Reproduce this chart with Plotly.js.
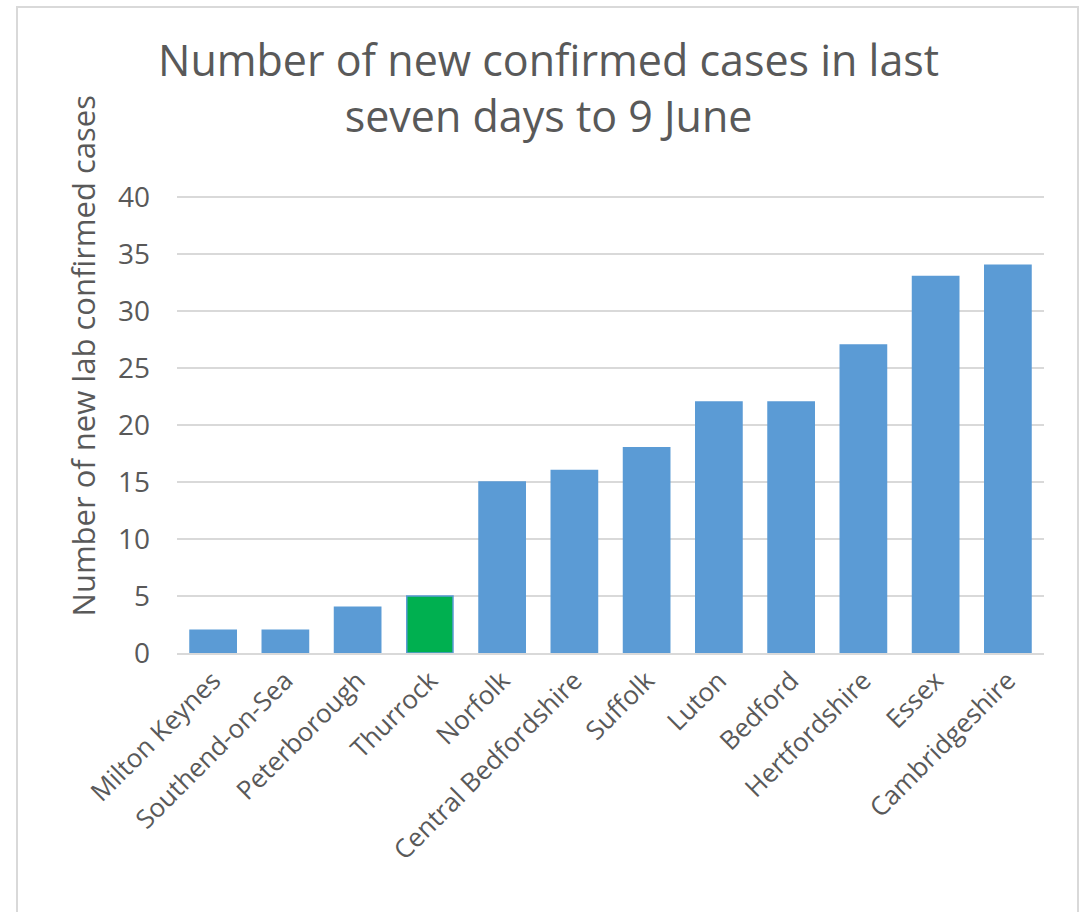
<!DOCTYPE html>
<html><head><meta charset="utf-8">
<script src="https://cdn.plot.ly/plotly-3.0.1.min.js"></script>
<style>
html,body{margin:0;padding:0;background:#fff;}
#frame{position:absolute;left:16px;top:6px;width:1063px;height:920px;border:2px solid #d9d9d9;box-sizing:border-box;}
#chart{position:absolute;left:0;top:0;width:1084px;height:912px;}
</style></head>
<body>
<div id="frame"></div>
<div id="chart"></div>
<script>
const categories = ["Milton Keynes","Southend-on-Sea","Peterborough","Thurrock","Norfolk","Central Bedfordshire","Suffolk","Luton","Bedford","Hertfordshire","Essex","Cambridgeshire"];
const cases = [2,2,4,5,15,16,18,22,22,27,33,34];
const highlight = "Thurrock";
const chartTitle = "Number of new confirmed cases in last<br>seven days to 9 June";
const yTitle = "Number of new lab confirmed cases";
const yTicks = [0,5,10,15,20,25,30,35,40];

const colors = categories.map(c => c === highlight ? "#00B050" : "#5B9BD5");
const font = "Open Sans, Noto Sans, sans-serif";
const txt = "#595959";

Plotly.newPlot("chart", [{
  type: "bar",
  x: categories,
  y: cases,
  marker: {color: colors, line: {color: "#5B9BD5", width: 1.5}},
  width: 0.64,
  hoverinfo: "x+y"
}], {
  width: 1084, height: 912,
  paper_bgcolor: "rgba(0,0,0,0)",
  plot_bgcolor: "rgba(0,0,0,0)",
  margin: {l: 177, r: 40, t: 191, b: 259},
  annotations: [
    {text: chartTitle, xref: "paper", yref: "paper", x: 0.429, y: 1.225, xanchor: "center", yanchor: "middle",
     showarrow: false, font: {family: font, size: 43, color: txt}},
    {text: yTitle, xref: "paper", yref: "paper", x: -0.109, y: 0.643, xanchor: "center", yanchor: "middle", textangle: -90,
     showarrow: false, font: {family: font, size: 31, color: txt}}
  ],
  xaxis: {
    type: "category",
    tickangle: -45,
    tickfont: {family: font, size: 26, color: txt},
    showgrid: false,
    showline: true, linecolor: "#d9d9d9", linewidth: 2,
    ticks: ""
  },
  yaxis: {
    range: [0, 40.5],
    tickvals: yTicks,
    tickfont: {family: font, size: 28, color: txt},
    gridcolor: "#d9d9d9", gridwidth: 2,
    zeroline: false,
    ticks: "",
    ticklabelstandoff: 26
  },
  showlegend: false
}, {displayModeBar: false});
</script>
</body></html>
